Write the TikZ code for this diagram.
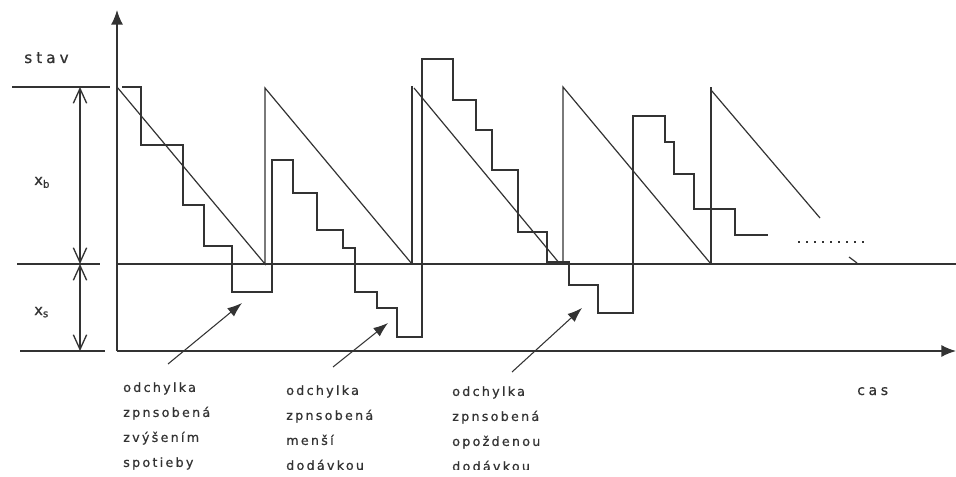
\documentclass[tikz,border=0pt]{standalone}
\usepackage{fontspec}
\setmainfont{DejaVu Sans}
\newfontfamily\labfont[LetterSpace=18,FakeBold=0.8]{DejaVu Sans}
\newfontfamily\bigfont[LetterSpace=26,FakeBold=0.8]{DejaVu Sans}
\usetikzlibrary{arrows.meta}
\definecolor{ink}{HTML}{333333}
\begin{document}
\begin{tikzpicture}[x=0.75pt,y=-0.75pt,
  thinline/.style={draw=ink,line width=0.9pt},
  thickline/.style={draw=ink,line width=2pt,line join=miter},
  axisline/.style={draw=ink,line width=1.1pt,-{Latex[length=11pt,width=9pt]}},
  dimline/.style={draw=ink,line width=1pt,{Straight Barb[length=11pt,width=10pt]}-{Straight Barb[length=11pt,width=10pt]}},
  pointer/.style={draw=ink,line width=0.8pt,-{Latex[length=11pt,width=8pt]}},
  lab/.style={font=\labfont\fontsize{9.5}{18.75}\selectfont,text=ink,align=left,inner sep=0pt},
  biglab/.style={font=\bigfont\fontsize{11}{12}\selectfont,text=ink,anchor=base west,inner sep=0pt},
]
\useasboundingbox (0,0) rectangle (956,477);

% axes
\coordinate (O) at (117,351);
\coordinate (Ytop) at (117,10);
\coordinate (Xend) at (956,351);
\draw[axisline] (O) -- (Ytop);
\draw[axisline] (O) -- (Xend);

% reference lines
\coordinate (L1a) at (12,87);   \coordinate (L1b) at (110,87);
\coordinate (L2a) at (17,264);  \coordinate (L2b) at (100,264);
\coordinate (L3a) at (20,351);  \coordinate (L3b) at (105,351);
\draw[thinline] (L1a) -- (L1b);
\draw[thinline] (L2a) -- (L2b);
\draw[thinline] (L3a) -- (L3b);
\coordinate (S1) at (117,264); \coordinate (S2) at (956,264);
\draw[thinline] (S1) -- (S2);

% dimension arrows
\coordinate (D1) at (80,87); \coordinate (D2) at (80,264); \coordinate (D3) at (80,351);
\draw[dimline] (D1) -- (D2);
\draw[dimline] (D2) -- (D3);

% labels
\node[biglab,font=\bigfont\fontsize{11.5}{12}\selectfont] (stav) at (24,63) {stav};
\node[biglab] (xh) at (34,185) {x\textsubscript{b}};
\node[biglab] (xs) at (34,315) {x\textsubscript{s}};

% ideal sawtooth (thin)
\draw[thinline,line join=miter] (117,87) -- (265,264) -- (265,88) -- (412,264);
\draw[thinline] (414,88) -- (560,264) -- (563,264) -- (563,87) -- (711,264);
\draw[thinline] (711,90) -- (820,218);
\draw[thickline] (412,264) -- (412,86);
\draw[thickline] (711,264) -- (711,87);

% real staircase (thick)
\draw[thickline] (122,87) -- (141,87) -- (141,145) -- (183,145) -- (183,205) -- (204,205)
  -- (204,246) -- (232,246) -- (232,292) -- (272,292) -- (272,160) -- (293,160)
  -- (293,193) -- (317,193) -- (317,230) -- (343,230) -- (343,248) -- (355,248)
  -- (355,292) -- (377,292) -- (377,308) -- (397,308) -- (397,337) -- (422,337)
  -- (422,59) -- (453,59) -- (453,100) -- (476,100) -- (476,130) -- (492,130)
  -- (492,170) -- (518,170) -- (518,232) -- (547,232) -- (547,262) -- (569,262)
  -- (569,285) -- (598,285) -- (598,313) -- (633,313) -- (633,116) -- (665,116)
  -- (665,142) -- (674,142) -- (674,174) -- (694,174) -- (694,209) -- (735,209)
  -- (735,235) -- (768,235);

% continuation dots
\coordinate (Da) at (798,242); \coordinate (Db) at (866,242);
\draw[draw=ink,line width=1.3pt,dash pattern=on 1.3pt off 4.7pt] (Da) -- (Db);
\coordinate (Ta) at (849,257); \coordinate (Tb) at (857,263);
\draw[thinline] (Ta) -- (Tb);

% annotations (bottom lines cut as in the reference)
\begin{scope}
\clip (100,370) rectangle (700,469);
\node[lab,anchor=north west] (t1) at (123,382) {odchylka\\zpnsobená\\zvýšením\\spotieby};
\node[lab,anchor=north west] (t2) at (286,385) {odchylka\\zpnsobená\\menší\\dodávkou};
\node[lab,anchor=north west] (t3) at (452,386) {odchylka\\zpnsobená\\opoždenou\\dodávkou};
\end{scope}
\node[biglab,font=\bigfont\fontsize{10.5}{12}\selectfont] (cas) at (857,395) {cas};

\coordinate (a1s) at (168,364); \coordinate (a1e) at (242,303);
\coordinate (a2s) at (333,367); \coordinate (a2e) at (388,323);
\coordinate (a3s) at (512,372); \coordinate (a3e) at (582,308);
\draw[pointer] (a1s) -- (a1e);
\draw[pointer] (a2s) -- (a2e);
\draw[pointer] (a3s) -- (a3e);
\end{tikzpicture}
\end{document}
